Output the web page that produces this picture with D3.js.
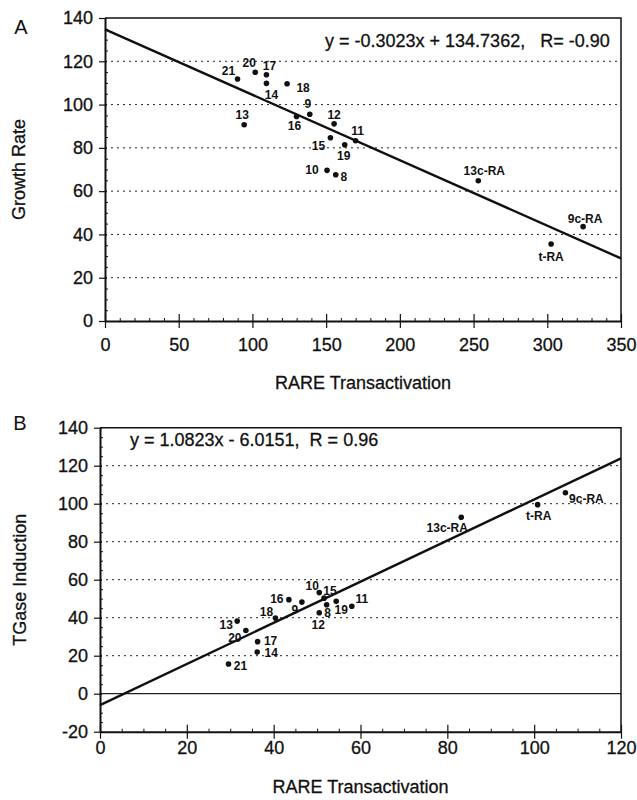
<!DOCTYPE html>
<html lang="en">
<head>
<meta charset="UTF-8" />
<title>RARE transactivation: growth rate and TGase induction</title>
<script src="https://d3js.org/d3.v7.min.js"></script>
<style>
  body { margin: 0; background: #fff; }
  svg { font-family: "Liberation Sans", Arial, sans-serif; }
  .heavy { stroke: #111; stroke-width: 0.3; }
</style>
</head>
<body>
<svg width="637" height="800"></svg>
<script>
// ---- panel A: growth rate vs RARE transactivation ----
const namesA = ["21", "20", "17", "14", "18", "13", "16", "9", "12", "15", "19", "11", "10", "8", "13c-RA", "9c-RA", "t-RA"];
const rareA = [89.9, 101.9, 109.5, 109.5, 123.5, 94.4, 129.9, 138.9, 155.4, 152.9, 162.6, 170.0, 150.6, 156.5, 253.2, 324.3, 302.6];
const growthA = [111.8, 114.9, 113.8, 109.8, 109.6, 90.7, 94.5, 95.5, 91.1, 84.7, 81.4, 83.3, 69.6, 67.6, 64.8, 43.6, 35.6];
const fitA = { slope: -0.3023, intercept: 134.7362, r: -0.90 };
const xTicksA = [0, 50, 100, 150, 200, 250, 300, 350];
const yTicksA = [0, 20, 40, 60, 80, 100, 120, 140];

// ---- panel B: TGase induction vs RARE transactivation ----
const namesB = ["10", "15", "8", "19", "12", "16", "9", "18", "13", "20", "17", "14", "21", "11", "13c-RA", "t-RA", "9c-RA"];
const rareB = [50.5, 51.6, 52.2, 54.4, 50.5, 43.5, 46.5, 40.4, 31.6, 33.6, 36.3, 36.2, 29.6, 58.0, 83.2, 100.8, 107.2];
const tgaseB = [53.2, 50.3, 46.8, 48.6, 42.6, 49.5, 48.2, 39.8, 38.2, 33.3, 27.4, 21.9, 15.6, 46.0, 92.9, 99.5, 105.8];
const fitB = { slope: 1.0823, intercept: -6.0151, r: 0.96 };
const xTicksB = [0, 20, 40, 60, 80, 100, 120];
const yTicksB = [-20, 0, 20, 40, 60, 80, 100, 120, 140];

// label offsets (px) from each dot, same order as the names
const labelOffA = [[-9, -8], [-6, -9], [3, -9], [5, 12], [16, 4], [-2, -10], [-2, 10], [-2, -10], [0, -9],
  [-12, 8], [-1, 11], [2, -10], [-15, 0], [8, 2], [6, -10], [2, -8], [0, 13]];
const labelOffB = [[-7, -7], [6, -7], [1, 8], [5, 9], [-1, 12], [-12, -1], [-7, 8], [-9, -6], [-11, 4],
  [-11, 8], [13, -1], [14, 1], [12, 2], [10, -7], [-14, 11], [1, 11], [21, 6]];

const svg = d3.select("svg");
const ink = "#111";

function fmtFit(f) {
  const sign = f.intercept < 0 ? "-" : "+";
  return `y = ${f.slope}x ${sign} ${Math.abs(f.intercept)},`;
}

function drawPanel(p) {
  const x = d3.scaleLinear().domain(p.xDomain).range([p.left, p.right]);
  const y = d3.scaleLinear().domain(p.yDomain).range([p.bottom, p.top]);
  const g = svg.append("g");

  // horizontal grid (dotted), solid at zero
  const inner = p.yTicks.filter(v => v !== p.yDomain[0] && v !== p.yDomain[1]);
  g.append("g").selectAll("line").data(inner).join("line")
    .attr("x1", p.left).attr("x2", p.right)
    .attr("y1", d => y(d)).attr("y2", d => y(d))
    .attr("stroke", "#222")
    .attr("stroke-width", d => d === 0 ? 1.3 : 1)
    .attr("stroke-dasharray", d => d === 0 ? null : "2,4");

  // frame top + right
  g.append("path")
    .attr("d", `M${p.left},${p.top}H${p.right}V${p.bottom}`)
    .attr("fill", "none").attr("stroke", ink).attr("stroke-width", 1.5);

  // minor ticks
  const minorX = d3.range(p.xDomain[0], p.xDomain[1], p.xMinor).filter(v => !p.xTicks.includes(v));
  const minorY = d3.range(p.yDomain[0], p.yDomain[1], p.yMinor).filter(v => !p.yTicks.includes(v));
  g.append("g").attr("transform", `translate(0,${p.bottom})`)
    .call(d3.axisBottom(x).tickValues(minorX).tickSize(-3).tickFormat(""))
    .call(a => a.select(".domain").remove())
    .selectAll("line").attr("stroke", ink);
  g.append("g").attr("transform", `translate(${p.left},0)`)
    .call(d3.axisLeft(y).tickValues(minorY).tickSize(-3).tickFormat(""))
    .call(a => a.select(".domain").remove())
    .selectAll("line").attr("stroke", ink);

  // major axes (plain hyphen for negatives, as in the figure)
  const ax = g.append("g").attr("transform", `translate(0,${p.bottom})`)
    .call(d3.axisBottom(x).tickValues(p.xTicks).tickFormat(String)
      .tickSize(7).tickSizeOuter(0).tickPadding(p.xPad));
  ax.selectAll(".tick line").attr("y1", -7);
  const ay = g.append("g").attr("transform", `translate(${p.left},0)`)
    .call(d3.axisLeft(y).tickValues(p.yTicks).tickFormat(String)
      .tickSize(6).tickSizeOuter(0).tickPadding(6));
  ay.selectAll(".tick line").attr("x1", 2);
  [ax, ay].forEach(a => {
    a.select(".domain").attr("stroke", ink).attr("stroke-width", 2);
    a.selectAll(".tick line").attr("stroke", ink).attr("stroke-width", 1.2);
    a.selectAll("text").attr("font-size", 18).attr("fill", ink).attr("class", "heavy")
      .attr("font-family", "'Liberation Sans', Arial, sans-serif");
  });

  // regression line
  const fitLine = d3.line().x(d => x(d)).y(d => y(p.fit.slope * d + p.fit.intercept));
  g.append("path").datum(p.xDomain).attr("d", fitLine)
    .attr("fill", "none").attr("stroke", ink).attr("stroke-width", 2.4);

  // points
  const pts = p.names.map((n, i) => ({ n, x: p.xs[i], y: p.ys[i], off: p.offs[i] }));
  g.append("g").selectAll("circle").data(pts).join("circle")
    .attr("cx", d => x(d.x)).attr("cy", d => y(d.y)).attr("r", 2.8).attr("fill", ink);
  g.append("g").selectAll("text").data(pts).join("text")
    .attr("x", d => x(d.x) + d.off[0]).attr("y", d => y(d.y) + d.off[1])
    .attr("text-anchor", "middle").attr("dominant-baseline", "central")
    .attr("font-size", 12).attr("font-weight", "bold").attr("fill", ink)
    .text(d => d.n);

  // equation
  g.append("text").attr("x", p.eqX).attr("y", p.eqY).attr("class", "heavy")
    .attr("font-size", 18).attr("fill", ink).style("white-space", "pre")
    .text(fmtFit(p.fit) + p.rText);

  // titles
  g.append("text").attr("x", (p.left + p.right) / 2).attr("y", p.xTitleY).attr("class", "heavy")
    .attr("text-anchor", "middle").attr("font-size", 18).attr("fill", ink)
    .text("RARE Transactivation");
  g.append("text").attr("transform", `translate(${p.yTitleX},${(p.top + p.bottom) / 2}) rotate(-90)`)
    .attr("class", "heavy")
    .attr("text-anchor", "middle").attr("dy", "0.35em").attr("font-size", 18).attr("fill", ink)
    .text(p.yTitle);
  g.append("text").attr("x", p.tagX).attr("y", p.tagY)
    .attr("text-anchor", "middle").attr("font-size", 20).attr("fill", ink)
    .text(p.tag);
}

drawPanel({
  tag: "A", tagX: 21, tagY: 34,
  left: 105, right: 621, top: 18, bottom: 321,
  xDomain: [0, 350], yDomain: [0, 140],
  xTicks: xTicksA, yTicks: yTicksA, xMinor: 10, yMinor: 5, xPad: 10,
  names: namesA, xs: rareA, ys: growthA, offs: labelOffA, fit: fitA,
  rText: `   R= ${fitA.r.toFixed(2)}`, eqX: 325, eqY: 47,
  xTitleY: 389, yTitleX: 19, yTitle: "Growth Rate"
});

drawPanel({
  tag: "B", tagX: 20, tagY: 430,
  left: 100, right: 621, top: 427.7, bottom: 731.7,
  xDomain: [0, 120], yDomain: [-20, 140],
  xTicks: xTicksB, yTicks: yTicksB, xMinor: 5, yMinor: 5, xPad: 3,
  names: namesB, xs: rareB, ys: tgaseB, offs: labelOffB, fit: fitB,
  rText: `  R = ${fitB.r.toFixed(2)}`, eqX: 130, eqY: 446,
  xTitleY: 793, yTitleX: 20, yTitle: "TGase Induction"
});
</script>
</body>
</html>
